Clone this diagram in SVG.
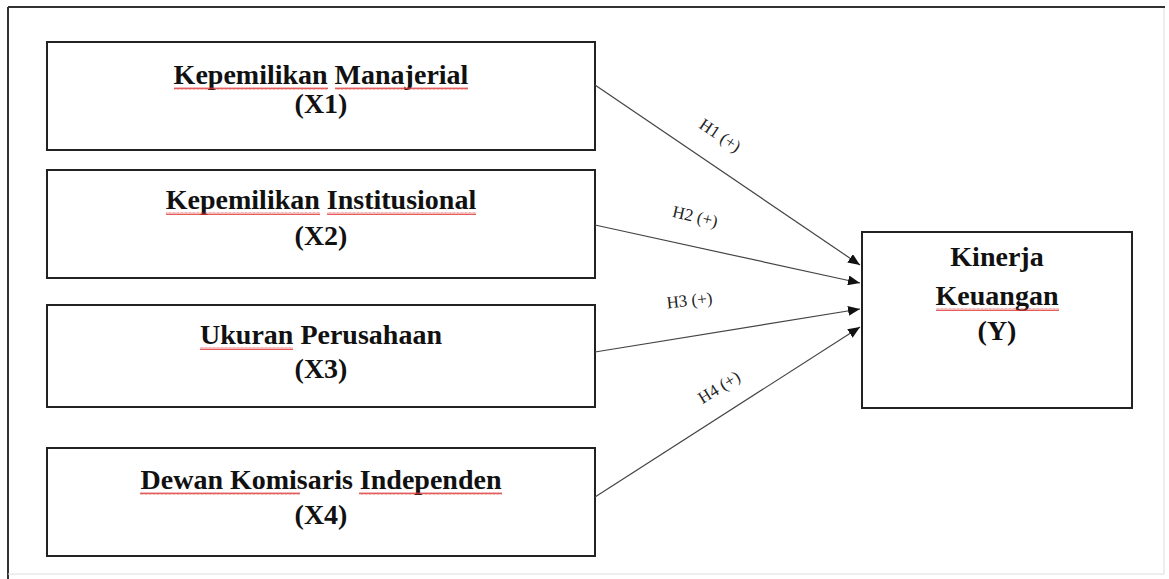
<svg xmlns="http://www.w3.org/2000/svg" width="1169" height="579" viewBox="0 0 1169 579">
<style>
.box{fill:#fff;stroke:#222;stroke-width:2}
.t{font-family:"Liberation Serif","Times New Roman",serif;font-weight:bold;font-size:28px;fill:#111;text-anchor:middle}
.h{font-family:"Liberation Serif","Times New Roman",serif;font-size:17px;fill:#222;text-anchor:middle}
.c{stroke:#444;stroke-width:1.2;fill:none;marker-end:url(#ah)}
.sq{fill:url(#wave)}
</style>
<defs>
<marker id="ah" markerWidth="12" markerHeight="10" refX="12" refY="5" orient="auto" markerUnits="userSpaceOnUse">
<path d="M0,0 L12,5 L0,10 Z" fill="#111"/>
</marker>
<pattern id="wave" width="4" height="3" patternUnits="userSpaceOnUse">
<path d="M0,2.5 L1,0.5 L2,2.5 L3,0.5 L4,2.5" fill="none" stroke="#d33" stroke-width="0.8"/>
</pattern>
</defs>
<rect width="1169" height="579" fill="#fff"/>
<g id="frame">
<line x1="8" y1="7" x2="1165" y2="7" stroke="#333" stroke-width="2"/>
<line x1="8" y1="7" x2="8" y2="579" stroke="#333" stroke-width="2"/>
<line x1="1164" y1="8" x2="1164" y2="574" stroke="#ddd" stroke-width="1"/>
<line x1="8" y1="574" x2="1164" y2="574" stroke="#ddd" stroke-width="1"/>
</g>
<g id="x1">
<rect class="box" x="47" y="42" width="548" height="108"/>
<text class="t" x="321" y="84">Kepemilikan Manajerial</text>
<text class="t" x="321" y="113">(X1)</text>
<rect class="sq" x="174" y="87" width="154" height="3"/>
<rect class="sq" x="335" y="87" width="133" height="3"/>
</g>
<g id="x2">
<rect class="box" x="47" y="170" width="548" height="108"/>
<text class="t" x="321" y="209">Kepemilikan Institusional</text>
<text class="t" x="321" y="245">(X2)</text>
<rect class="sq" x="166" y="212" width="154" height="3"/>
<rect class="sq" x="327" y="212" width="149" height="3"/>
</g>
<g id="x3">
<rect class="box" x="47" y="305" width="548" height="102"/>
<text class="t" x="321" y="344">Ukuran Perusahaan</text>
<text class="t" x="321" y="378">(X3)</text>
<rect class="sq" x="200" y="347" width="93" height="3"/>
</g>
<g id="x4">
<rect class="box" x="47" y="448" width="548" height="108"/>
<text class="t" x="321" y="489">Dewan Komisaris Independen</text>
<text class="t" x="321" y="524">(X4)</text>
<rect class="sq" x="140" y="492" width="160" height="3"/>
<rect class="sq" x="359" y="492" width="143" height="3"/>
</g>
<g id="y">
<rect class="box" x="862" y="232" width="270" height="176"/>
<text class="t" x="997" y="266">Kinerja</text>
<text class="t" x="997" y="305">Keuangan</text>
<text class="t" x="997" y="340">(Y)</text>
<rect class="sq" x="936" y="308" width="123" height="3"/>
</g>
<g id="connectors">
<line class="c" x1="595" y1="85" x2="860" y2="265"/>
<line class="c" x1="595" y1="225" x2="860" y2="283"/>
<line class="c" x1="595" y1="352" x2="860" y2="309"/>
<line class="c" x1="595" y1="497" x2="860" y2="327"/>
<text class="h" transform="translate(717,140) rotate(34)">H1 (+)</text>
<text class="h" transform="translate(694,222) rotate(13)">H2 (+)</text>
<text class="h" transform="translate(690,306) rotate(-6)">H3 (+)</text>
<text class="h" transform="translate(722,392) rotate(-32)">H4 (+)</text>
</g>
</svg>
